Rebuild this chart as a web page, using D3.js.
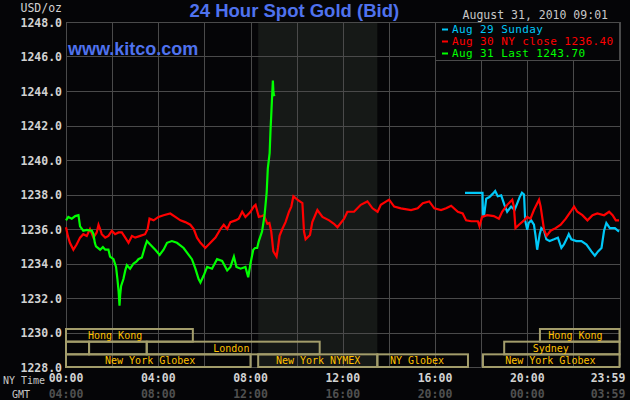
<!DOCTYPE html>
<html><head><meta charset="utf-8">
<script src="https://cdn.jsdelivr.net/npm/d3@7"></script>
<style>html,body{margin:0;padding:0;background:#050507;overflow:hidden}</style>
</head><body>
<svg id="c" width="630" height="400"></svg>
<script>
// ---- data ----
const aug29 = [[17.3,1238.1],[18.06,1238.1],[18.08,1236.9],[18.12,1236.7],[18.22,1237.75],[18.36,1237.85],[18.51,1238.05],[18.61,1238.2],[18.72,1237.9],[18.87,1237.95],[19.01,1237.4],[19.13,1237.0],[19.3,1237.3],[19.45,1237.1],[19.57,1237.5],[19.67,1237.85],[19.77,1238.1],[19.86,1238.0],[19.91,1236.5],[20.0,1235.95],[20.06,1236.35],[20.17,1236.5],[20.29,1236.25],[20.36,1235.6],[20.43,1234.8],[20.54,1235.7],[20.61,1236.05],[20.73,1235.9],[20.83,1235.4],[20.97,1235.3],[21.16,1235.4],[21.33,1235.5],[21.48,1234.9],[21.59,1235.1],[21.7,1235.4],[21.8,1235.7],[21.91,1235.4],[22.13,1235.3],[22.35,1235.3],[22.57,1235.1],[22.78,1234.7],[22.93,1234.45],[23.07,1234.7],[23.22,1234.9],[23.33,1235.9],[23.43,1236.35],[23.58,1236.05],[23.8,1236.05],[23.98,1235.85]];
const aug30 = [[0.0,1236.1],[0.08,1235.6],[0.17,1235.2],[0.32,1234.8],[0.46,1235.1],[0.61,1235.5],[0.75,1235.7],[0.9,1235.6],[1.04,1236.0],[1.19,1235.5],[1.33,1235.8],[1.41,1236.25],[1.48,1236.0],[1.55,1235.7],[1.7,1235.5],[1.84,1235.6],[1.99,1235.9],[2.13,1235.7],[2.28,1235.8],[2.42,1235.8],[2.57,1235.5],[2.71,1235.2],[2.86,1235.6],[3.0,1235.5],[3.22,1235.6],[3.43,1235.7],[3.54,1236.0],[3.62,1236.6],[3.8,1236.5],[4.01,1236.7],[4.23,1236.8],[4.52,1236.9],[4.74,1236.7],[4.96,1236.5],[5.17,1236.4],[5.39,1236.25],[5.54,1236.0],[5.68,1235.5],[5.83,1235.2],[6.04,1234.9],[6.26,1235.2],[6.48,1235.5],[6.7,1236.0],[6.84,1236.25],[6.99,1236.0],[7.13,1236.4],[7.35,1236.5],[7.49,1236.6],[7.64,1237.0],[7.78,1236.7],[7.93,1236.9],[8.0,1237.0],[8.14,1237.3],[8.22,1237.4],[8.36,1236.7],[8.5,1236.75],[8.58,1236.8],[8.73,1236.3],[8.82,1236.35],[8.9,1235.85],[8.99,1234.7],[9.13,1234.4],[9.19,1234.9],[9.26,1235.6],[9.38,1236.0],[9.52,1236.4],[9.67,1237.0],[9.77,1237.3],[9.86,1237.9],[10.03,1237.7],[10.25,1237.5],[10.32,1235.85],[10.39,1235.4],[10.58,1235.65],[10.68,1236.4],[10.9,1237.1],[11.12,1236.7],[11.41,1236.5],[11.62,1236.3],[11.77,1236.1],[12.06,1236.6],[12.2,1237.0],[12.49,1237.0],[12.78,1237.4],[13.07,1237.6],[13.29,1237.2],[13.51,1237.0],[13.65,1237.4],[14.01,1237.7],[14.23,1237.3],[14.52,1237.2],[14.96,1237.1],[15.25,1237.2],[15.47,1237.5],[15.75,1237.6],[15.97,1237.2],[16.26,1237.1],[16.48,1237.2],[16.7,1237.35],[16.99,1237.0],[17.2,1236.9],[17.35,1236.5],[17.57,1236.45],[17.86,1236.45],[17.93,1236.15],[18.04,1236.7],[18.26,1236.8],[18.55,1236.75],[18.77,1236.6],[18.91,1237.0],[19.13,1237.4],[19.35,1237.7],[19.42,1237.3],[19.49,1236.05],[19.64,1236.25],[19.86,1236.5],[20.0,1236.7],[20.14,1236.6],[20.29,1237.1],[20.51,1237.7],[20.58,1237.3],[20.73,1235.95],[20.84,1235.6],[21.01,1235.9],[21.23,1236.05],[21.45,1236.25],[21.67,1236.6],[21.88,1237.0],[22.03,1237.3],[22.17,1237.0],[22.39,1236.8],[22.61,1236.5],[22.83,1236.8],[23.04,1236.9],[23.33,1236.8],[23.55,1237.0],[23.7,1236.8],[23.84,1236.5],[23.98,1236.5]];
const aug31 = [[0.0,1236.5],[0.1,1236.7],[0.25,1236.6],[0.4,1236.75],[0.54,1236.8],[0.61,1236.15],[0.75,1235.9],[0.9,1235.95],[1.12,1235.9],[1.19,1235.7],[1.25,1235.2],[1.3,1235.0],[1.48,1234.8],[1.6,1234.95],[1.7,1234.8],[1.84,1234.8],[1.91,1234.4],[2.06,1234.25],[2.17,1233.8],[2.23,1233.1],[2.28,1232.4],[2.32,1231.55],[2.35,1232.2],[2.39,1232.7],[2.49,1233.1],[2.57,1233.6],[2.64,1233.9],[2.78,1233.7],[2.93,1234.0],[3.05,1234.1],[3.14,1234.25],[3.29,1234.35],[3.43,1235.0],[3.51,1235.3],[3.65,1235.1],[3.87,1234.8],[4.06,1234.5],[4.23,1234.8],[4.38,1235.2],[4.59,1235.3],[4.81,1235.2],[5.1,1234.9],[5.32,1234.5],[5.46,1234.25],[5.61,1233.7],[5.75,1233.1],[5.83,1232.9],[5.97,1233.3],[6.12,1233.8],[6.33,1233.7],[6.55,1234.25],[6.77,1234.15],[6.99,1233.6],[7.13,1233.8],[7.28,1234.4],[7.39,1233.8],[7.57,1233.7],[7.78,1233.8],[7.9,1233.2],[8.0,1234.0],[8.12,1234.8],[8.2,1234.9],[8.29,1234.9],[8.36,1235.3],[8.5,1235.85],[8.61,1236.8],[8.7,1238.1],[8.75,1239.5],[8.83,1240.4],[8.87,1241.8],[8.9,1242.6],[8.93,1243.5],[8.97,1244.6],[8.99,1244.05],[9.01,1243.8],[9.04,1243.7]];

const seriesNames = ["Aug 29 Sunday", "Aug 30 NY close 1236.40", "Aug 31 Last 1243.70"];
const seriesColors = ["#00c8f8", "#ff0000", "#00ff00"];
const yTicks = [1228,1230,1232,1234,1236,1238,1240,1242,1244,1246,1248];
const tickHours = [0,4,8,12,16,20,23.983];
const nyTicks = ["00:00","04:00","08:00","12:00","16:00","20:00","23:59"];
const gmtTicks = ["04:00","08:00","12:00","16:00","20:00","00:00","03:59"];
const gridHours = [0,2,4,6,8,10,12,14,16,18,20,22,24];
const nymexSession = [8.333, 13.5];
// markets: row, start hour, end hour, label, label hour
const markets = [
  [0, 0, 5.5, "Hong Kong", 2.13],
  [0, 20.55, 24, "Hong Kong", 22.09],
  [1, 0, 1.0, "", 0],
  [1, 1.0, 3.5, "", 0],
  [1, 3.5, 11.0, "London", 7.17],
  [1, 19.0, 24, "Sydney", 21.02],
  [2, 0, 8.0, "New York Globex", 3.65],
  [2, 8.333, 13.5, "New York NYMEX", 10.93],
  [2, 13.5, 17.43, "NY Globex", 15.22],
  [2, 18.08, 24, "New York Globex", 21.0]
];

// ---- drawing ----
const svg = d3.select("#c");
const mono = "'DejaVu Sans Mono', monospace";
const sans = "'Liberation Sans', Arial, sans-serif";
const x = d3.scaleLinear().domain([0, 24]).range([66, 619.5]);
const y = d3.scaleLinear().domain([1228, 1248]).range([367, 22]);
const gridColor = "#4a4a4a";
const px = v => Math.round(v) + 0.5;

svg.append("rect").attr("width", 630).attr("height", 400).attr("fill", "#050507");
svg.append("rect").attr("x", x(nymexSession[0])).attr("y", y(1248))
  .attr("width", x(nymexSession[1]) - x(nymexSession[0])).attr("height", y(1228) - y(1248))
  .attr("fill", "#161917");

const grid = svg.append("g").attr("shape-rendering", "crispEdges").attr("stroke", gridColor).attr("stroke-width", 1);
grid.selectAll("line.h").data(yTicks).join("line")
  .attr("x1", x(0)).attr("x2", x(24)).attr("y1", d => px(y(d))).attr("y2", d => px(y(d)));
grid.selectAll("line.v").data(gridHours).join("line")
  .attr("y1", y(1248)).attr("y2", y(1228)).attr("x1", d => px(x(d))).attr("x2", d => px(x(d)));

// market boxes
const rowTop = r => 329 + r * 12.67;
const mk = svg.append("g");
mk.selectAll("rect").data(markets).join("rect")
  .attr("x", d => x(d[1])).attr("y", d => rowTop(d[0]))
  .attr("width", d => x(d[2]) - x(d[1])).attr("height", 12.67)
  .attr("fill", "none").attr("stroke", "#a39d6b").attr("stroke-width", 2);
mk.selectAll("text").data(markets.filter(d => d[3])).join("text")
  .attr("x", d => x(d[4])).attr("y", d => rowTop(d[0]) + 6.5)
  .attr("text-anchor", "middle").attr("dominant-baseline", "central")
  .attr("font-family", mono).attr("font-size", "10px").attr("fill", "#ffc000")
  .text(d => d[3]);

// lines
const line = d3.line().x(d => x(d[0])).y(d => y(d[1]));
[aug29, aug30, aug31].forEach((s, i) => {
  svg.append("path").datum(s).attr("d", line).attr("fill", "none")
    .attr("stroke", seriesColors[i]).attr("stroke-width", 2.2).attr("stroke-linejoin", "miter");
});

// legend
const lg = svg.append("g");
lg.append("rect").attr("x", 435.5).attr("y", 22.5).attr("width", 183.5).attr("height", 38)
  .attr("fill", "#050507").attr("stroke", gridColor).attr("shape-rendering", "crispEdges");
seriesNames.forEach((n, i) => {
  lg.append("line").attr("x1", 442).attr("x2", 448).attr("y1", 29.5 + i * 12).attr("y2", 29.5 + i * 12)
    .attr("stroke", seriesColors[i]).attr("stroke-width", 2);
  lg.append("text").attr("x", 452).attr("y", 29.5 + i * 12).attr("dominant-baseline", "central")
    .attr("font-family", mono).attr("font-size", "11px").attr("letter-spacing", "0.4px")
    .attr("fill", seriesColors[i]).text(n);
});

// y labels
svg.append("g").selectAll("text").data(yTicks).join("text")
  .attr("x", 62).attr("y", d => y(d) + 0.5).attr("text-anchor", "end").attr("dominant-baseline", "central")
  .attr("font-family", mono).attr("font-weight", "bold").attr("font-size", "11.5px").attr("fill", "#d2d2d2")
  .text(d3.format(".1f"));

// x labels
const xl = d => Math.min(x(d), 608);
svg.append("g").selectAll("text").data(tickHours).join("text")
  .attr("x", xl).attr("y", 382).attr("text-anchor", "middle")
  .attr("font-family", mono).attr("font-weight", "bold").attr("font-size", "11.5px").attr("fill", "#d2d2d2")
  .text((d, i) => nyTicks[i]);
svg.append("g").selectAll("text").data(tickHours).join("text")
  .attr("x", xl).attr("y", 397.5).attr("text-anchor", "middle")
  .attr("font-family", mono).attr("font-weight", "bold").attr("font-size", "11.5px").attr("fill", "#505050")
  .text((d, i) => gmtTicks[i]);

svg.append("text").attr("x", 3).attr("y", 384).attr("font-family", mono).attr("font-size", "10px").attr("fill", "#c8c8c8").text("NY Time");
svg.append("text").attr("x", 12).attr("y", 398).attr("font-family", mono).attr("font-size", "10px").attr("fill", "#c8c8c8").text("GMT");
svg.append("text").attr("x", 62).attr("y", 12).attr("text-anchor", "end").attr("font-family", mono).attr("font-size", "11.5px").attr("fill", "#d2d2d2").text("USD/oz");

// titles
svg.append("text").attr("x", 294.3).attr("y", 17).attr("text-anchor", "middle")
  .attr("font-family", sans).attr("font-weight", "bold").attr("font-size", "18.5px").attr("fill", "#4f72ee").text("24 Hour Spot Gold (Bid)");
svg.append("text").attr("x", 68).attr("y", 55).attr("font-family", sans).attr("font-weight", "bold")
  .attr("font-size", "18px").attr("fill", "#4f72ee").text("www.kitco.com");
svg.append("text").attr("x", 608).attr("y", 19).attr("text-anchor", "end")
  .attr("font-family", mono).attr("font-size", "11.5px").attr("fill", "#c8c8c8").text("August 31, 2010 09:01");
</script>
</body></html>
